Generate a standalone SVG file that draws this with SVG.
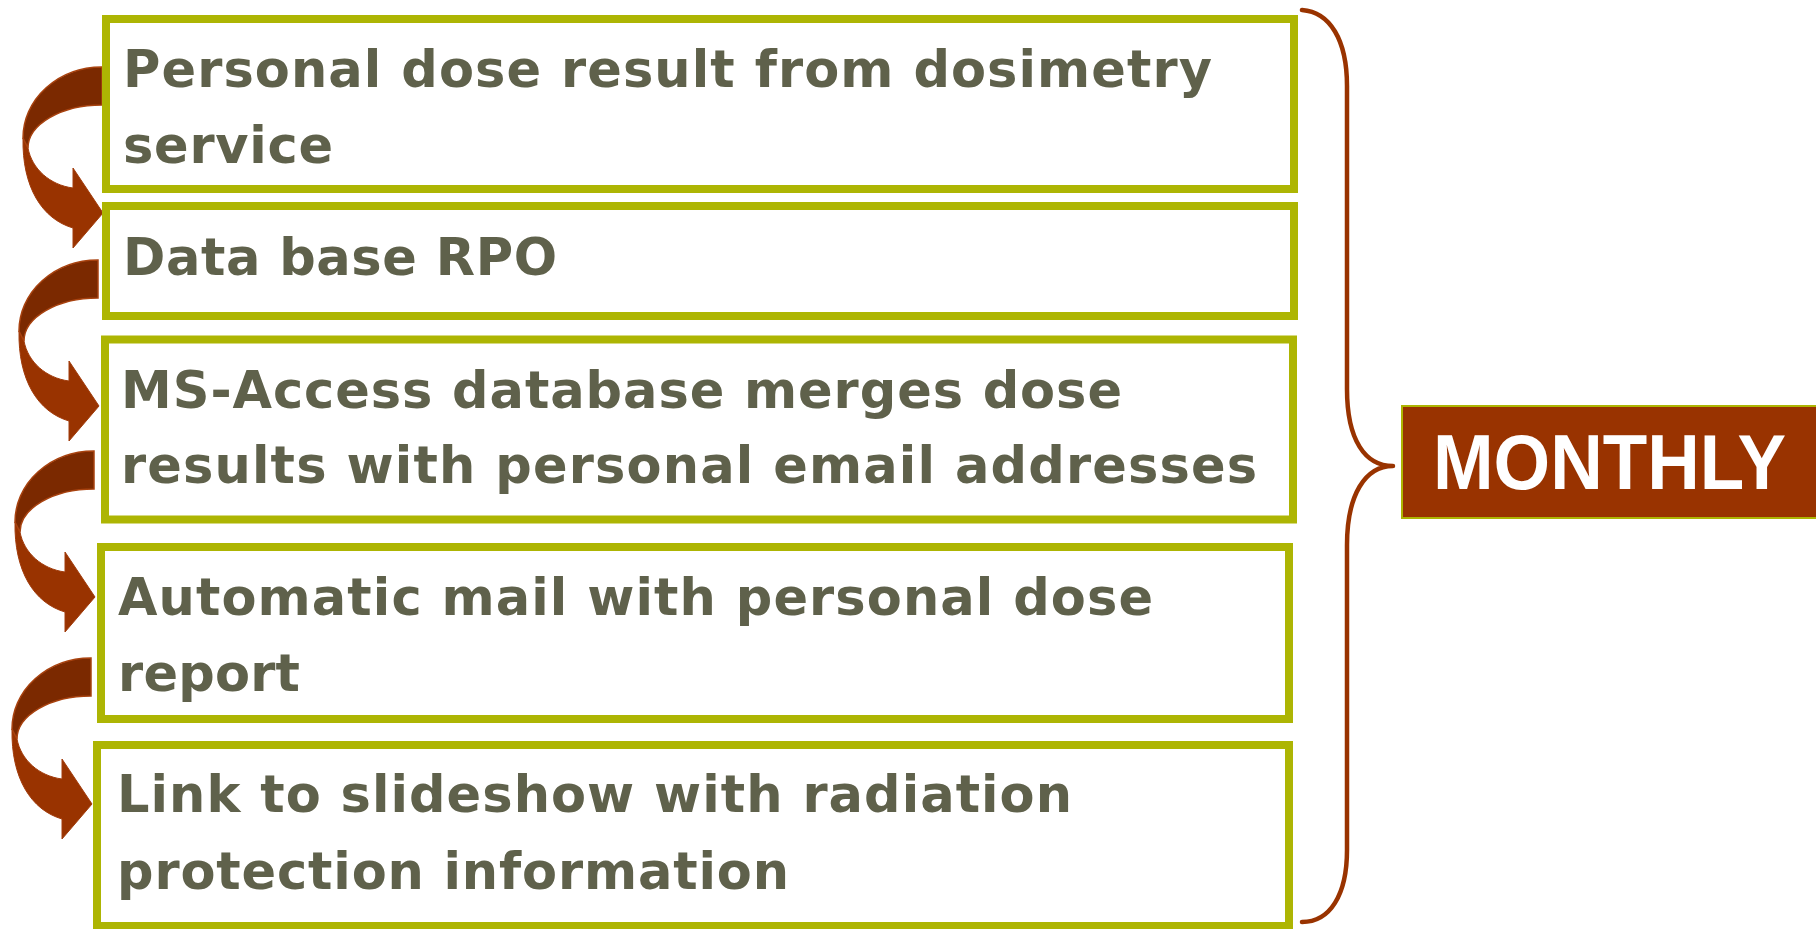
<svg xmlns="http://www.w3.org/2000/svg" xmlns:xlink="http://www.w3.org/1999/xlink" width="1816" height="929" viewBox="0 0 1816 929">
  <style>
    .step { fill: #ffffff; stroke: #adb503; stroke-width: 8; }
    .label { font-family: "DejaVu Sans", Verdana, sans-serif; font-weight: bold; font-size: 51px; fill: #5f614b; }
    .tag { fill: #993300; stroke: #adb503; stroke-width: 2; }
    .tag-text { font-family: "Liberation Sans", Arial, sans-serif; font-weight: bold; font-size: 77px; fill: #ffffff; }
    .band-front { fill: #993300; stroke: #a23c0c; stroke-width: 1; }
    .band-back { fill: #7b2900; stroke: #a8420f; stroke-width: 1.5; }
    .brace { fill: none; stroke: #993300; stroke-width: 4.5; stroke-linecap: round; stroke-linejoin: round; }
  </style>
  <defs>
    <!-- curved ribbon arrow, origin at the top of the band where it leaves a box -->
    <g id="curved-arrow">
      <path class="band-front" d="M -79,71 C -80,120 -60,152 -29,161 L -29,181 L 1,146 L -29,101 L -29,121 C -52,118 -70,102 -74,81 Z"/>
      <path class="band-back" d="M 0,0 A 79,71 0 0 0 -79,71 L -74,81 A 74,43 0 0 1 0,38 Z"/>
    </g>
  </defs>

  <rect width="1816" height="929" fill="#ffffff"/>

  <g id="connectors">
    <use xlink:href="#curved-arrow" transform="translate(102,67)"/>
    <use xlink:href="#curved-arrow" transform="translate(98,260)"/>
    <use xlink:href="#curved-arrow" transform="translate(94,451)"/>
    <use xlink:href="#curved-arrow" transform="translate(91,658)"/>
    <path id="monthly-brace" class="brace" d="M 1302,10 C 1330,12 1347,40 1347,86 L 1347,389 C 1347,440 1365,466 1393,466 C 1365,466 1347,495 1347,545 L 1347,850 C 1347,895 1330,922 1302,922"/>
  </g>

  <g id="step-dose-result">
    <rect class="step" x="106" y="19" width="1188" height="170"/>
    <text class="label" x="123" y="87" textLength="1089" lengthAdjust="spacing">Personal dose result from dosimetry</text>
    <text class="label" x="123" y="163" textLength="210" lengthAdjust="spacing">service</text>
  </g>

  <g id="step-database">
    <rect class="step" x="106" y="206" width="1188" height="110"/>
    <text class="label" x="123" y="275" textLength="434" lengthAdjust="spacing">Data base RPO</text>
  </g>

  <g id="step-merge">
    <rect class="step" x="105" y="339.5" width="1188" height="180"/>
    <text class="label" x="121" y="408" textLength="1001" lengthAdjust="spacing">MS-Access database merges dose</text>
    <text class="label" x="121" y="483" textLength="1136" lengthAdjust="spacing">results with personal email addresses</text>
  </g>

  <g id="step-mail">
    <rect class="step" x="101" y="547" width="1188" height="172"/>
    <text class="label" x="118" y="615" textLength="1035" lengthAdjust="spacing">Automatic mail with personal dose</text>
    <text class="label" x="118" y="691" textLength="182" lengthAdjust="spacing">report</text>
  </g>

  <g id="step-slideshow">
    <rect class="step" x="97" y="745" width="1192" height="181"/>
    <text class="label" x="117" y="812" textLength="955" lengthAdjust="spacing">Link to slideshow with radiation</text>
    <text class="label" x="117" y="889" textLength="672" lengthAdjust="spacing">protection information</text>
  </g>

  <g id="monthly">
    <rect class="tag" x="1402" y="406" width="420" height="112"/>
    <text class="tag-text" x="1433" y="489" textLength="353" lengthAdjust="spacingAndGlyphs">MONTHLY</text>
  </g>
</svg>
